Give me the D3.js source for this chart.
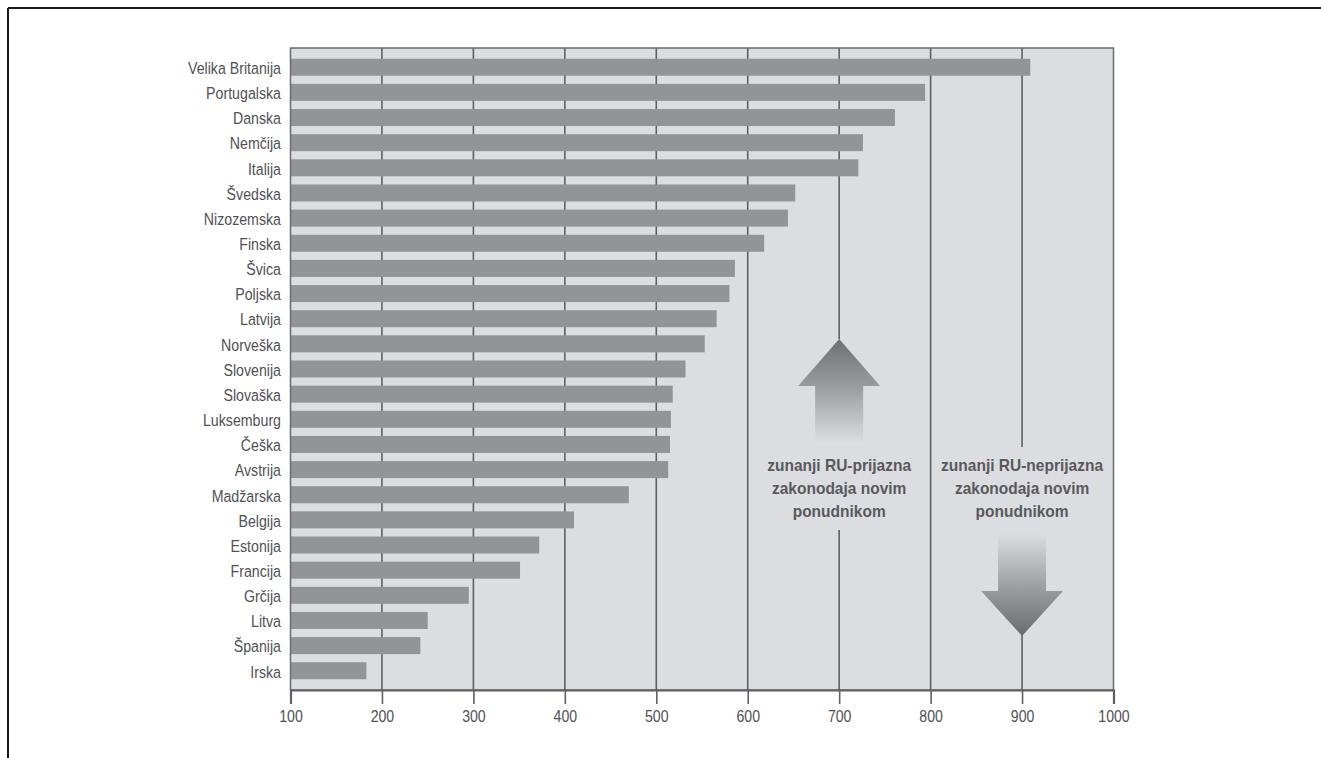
<!DOCTYPE html>
<html>
<head>
<meta charset="utf-8">
<script src="https://cdn.jsdelivr.net/npm/d3@7"></script>
<style>
  html, body { margin: 0; padding: 0; background: #fff; }
  svg { display: block; }
  .cond { font-family: "Liberation Sans", Arial, sans-serif; }
</style>
</head>
<body>
<svg id="chart" width="1321" height="758"></svg>
<script>
// Countries, top to bottom
const countries = [
  "Velika Britanija", "Portugalska", "Danska", "Nemčija", "Italija",
  "Švedska", "Nizozemska", "Finska", "Švica", "Poljska",
  "Latvija", "Norveška", "Slovenija", "Slovaška", "Luksemburg",
  "Češka", "Avstrija", "Madžarska", "Belgija", "Estonija",
  "Francija", "Grčija", "Litva", "Španija", "Irska"
];
// Index value per country
const values = [
  909, 794, 761, 726, 721,
  652, 644, 618, 586, 580,
  566, 553, 532, 518, 516,
  515, 513, 470, 410, 372,
  351, 295, 250, 242, 183
];
const xTicks = [100, 200, 300, 400, 500, 600, 700, 800, 900, 1000];
const gridValues = [200, 300, 400, 500, 600, 700, 800, 900];

// Annotations: direction of the arrow and the text lines
const noteValues = [700, 900];
const noteDirections = ["up", "down"];
const noteLines = [
  ["zunanji RU-prijazna", "zakonodaja novim", "ponudnikom"],
  ["zunanji RU-neprijazna", "zakonodaja novim", "ponudnikom"]
];

const svg = d3.select("#chart");
const bg = "#dcdde0";
const textColor = "#505155";

// Outer frame lines (top and left)
svg.append("line").attr("x1", 8).attr("y1", 8).attr("x2", 1321).attr("y2", 8)
  .attr("stroke", "#1a1a1a").attr("stroke-width", 2);
svg.append("line").attr("x1", 8).attr("y1", 8).attr("x2", 8).attr("y2", 758)
  .attr("stroke", "#1a1a1a").attr("stroke-width", 2);

const plotLeft = 290.5, plotRight = 1113.5, plotTop = 48, plotBottom = 690;

const x = d3.scaleLinear().domain([100, 1000]).range([plotLeft, plotRight]);
const y = d3.scaleBand().domain(countries).range([plotTop, plotBottom])
  .paddingInner(0.324).paddingOuter(0.427);

// Plot background
svg.append("rect").attr("x", plotLeft).attr("y", plotTop)
  .attr("width", plotRight - plotLeft).attr("height", plotBottom - plotTop)
  .attr("fill", bg);

// Vertical gridlines
svg.append("g").selectAll("line").data(gridValues).join("line")
  .attr("x1", d => x(d)).attr("x2", d => x(d))
  .attr("y1", plotTop).attr("y2", plotBottom)
  .attr("stroke", "#5f6064").attr("stroke-width", 1.6);

// Gradients for the arrows
const defs = svg.append("defs");
const gUp = defs.append("linearGradient").attr("id", "gradUp")
  .attr("x1", 0).attr("y1", 0).attr("x2", 0).attr("y2", 1);
gUp.append("stop").attr("offset", "0%").attr("stop-color", "#6f7074");
gUp.append("stop").attr("offset", "45%").attr("stop-color", "#9a9b9f");
gUp.append("stop").attr("offset", "100%").attr("stop-color", bg);
const gDown = defs.append("linearGradient").attr("id", "gradDown")
  .attr("x1", 0).attr("y1", 0).attr("x2", 0).attr("y2", 1);
gDown.append("stop").attr("offset", "0%").attr("stop-color", bg);
gDown.append("stop").attr("offset", "55%").attr("stop-color", "#9a9b9f");
gDown.append("stop").attr("offset", "100%").attr("stop-color", "#6a6b6f");

// Annotation blocks
noteValues.forEach((v, i) => {
  const cx = x(v);
  const g = svg.append("g");
  const dir = noteDirections[i];
  // clear the gridline behind the block
  const gapTop = dir === "up" ? 339 : 447;
  const gapBottom = dir === "up" ? 530 : 635;
  g.append("rect").attr("x", cx - 3).attr("y", gapTop)
    .attr("width", 6).attr("height", gapBottom - gapTop).attr("fill", bg);

  const headHalf = 41, shaftHalf = 24, headLen = 47, shaftLen = 57;
  let path;
  if (dir === "up") {
    const tip = 339;
    path = [
      [cx, tip], [cx + headHalf, tip + headLen], [cx + shaftHalf, tip + headLen],
      [cx + shaftHalf, tip + headLen + shaftLen], [cx - shaftHalf, tip + headLen + shaftLen],
      [cx - shaftHalf, tip + headLen], [cx - headHalf, tip + headLen]
    ];
    g.append("path").attr("d", d3.line()(path) + "Z").attr("fill", "url(#gradUp)");
  } else {
    const tip = 636;
    path = [
      [cx, tip], [cx + headHalf, tip - headLen + 2], [cx + shaftHalf, tip - headLen + 2],
      [cx + shaftHalf, tip - headLen - shaftLen + 2], [cx - shaftHalf, tip - headLen - shaftLen + 2],
      [cx - shaftHalf, tip - headLen + 2], [cx - headHalf, tip - headLen + 2]
    ];
    g.append("path").attr("d", d3.line()(path) + "Z").attr("fill", "url(#gradDown)");
  }

  g.append("text")
    .attr("transform", `translate(${cx},471) scale(0.94,1)`)
    .attr("text-anchor", "middle")
    .attr("font-family", "'Liberation Sans', Arial, sans-serif")
    .attr("font-weight", "bold").attr("font-size", 16.5)
    .attr("fill", "#58595d")
    .selectAll("tspan").data(noteLines[i]).join("tspan")
    .attr("x", 0).attr("dy", (d, j) => j === 0 ? 0 : 23)
    .text(d => d);
});

// Bars
svg.append("g").selectAll("rect").data(countries).join("rect")
  .attr("x", x(100))
  .attr("y", d => y(d))
  .attr("width", (d, i) => x(values[i]) - x(100))
  .attr("height", y.bandwidth())
  .attr("fill", "#939498");

// Plot border
svg.append("rect").attr("x", plotLeft).attr("y", plotTop)
  .attr("width", plotRight - plotLeft).attr("height", plotBottom - plotTop)
  .attr("fill", "none").attr("stroke", "#6a6b6f").attr("stroke-width", 1.5);

// Category labels (condensed)
svg.append("g").attr("class", "cond").selectAll("text").data(countries).join("text")
  .attr("transform", d => `translate(281,${y(d) + y.bandwidth() / 2 + 1}) scale(0.86,1)`)
  .attr("dy", "0.35em")
  .attr("text-anchor", "end")
  .attr("font-size", 16.5)
  .attr("fill", textColor)
  .text(d => d);

// Bottom axis
const axis = d3.axisBottom(x).tickValues(xTicks).tickSize(14).tickPadding(6)
  .tickFormat(d3.format("d"));
const ax = svg.append("g").attr("transform", `translate(0,${plotBottom})`).call(axis);
ax.select(".domain").attr("stroke", "#5f6064").attr("stroke-width", 2.2);
ax.selectAll(".tick line").attr("stroke", "#5f6064").attr("stroke-width", 1.6);
ax.selectAll(".tick text")
  .attr("class", "cond")
  .attr("transform", "scale(0.83,1)")
  .attr("font-size", 17).attr("fill", textColor);
</script>
</body>
</html>
